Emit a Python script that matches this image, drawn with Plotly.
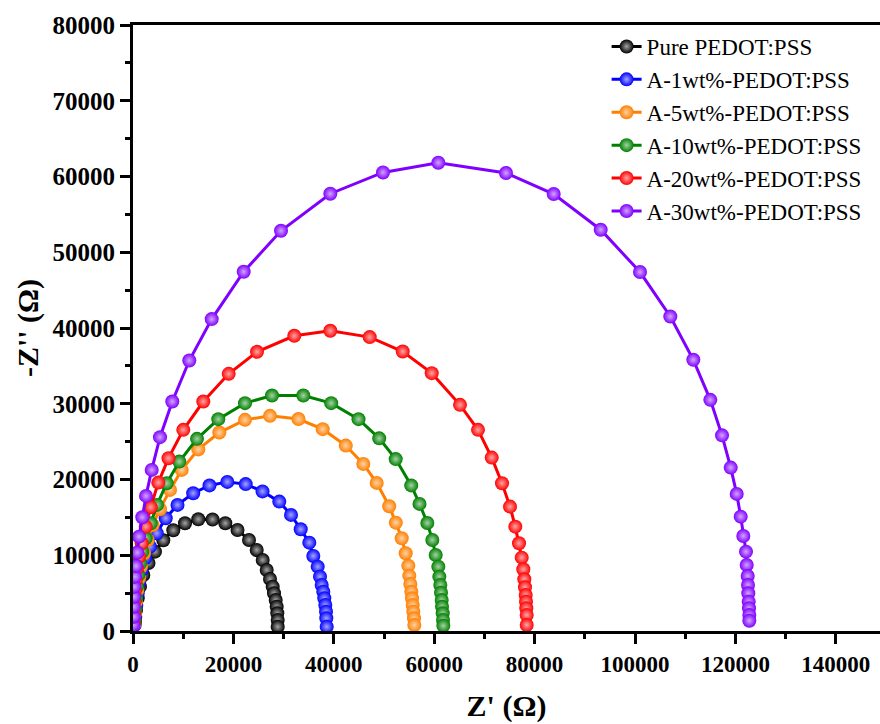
import plotly.graph_objects as go

# ---- data ----
names = ["Pure PEDOT:PSS", "A-1wt%-PEDOT:PSS", "A-5wt%-PEDOT:PSS",
         "A-10wt%-PEDOT:PSS", "A-20wt%-PEDOT:PSS", "A-30wt%-PEDOT:PSS"]
colors = ["#000000", "#0000FF", "#FF7F00", "#008000", "#FF0000", "#7F00FF"]

pure_x = [398, 598, 936, 1394, 2052, 3088, 4382, 6036, 8028, 10358, 13008, 15836, 18386,
          20816, 23107, 24641, 25836, 26633, 27290, 27828, 28087, 28426, 28625, 28745, 28825, 28825]
pure_y = [1229, 2774, 4320, 5852, 7398, 8983, 10475, 11981, 13302, 14227, 14756, 14729, 14227,
          13342, 12021, 10700, 9379, 8058, 6869, 5852, 4980, 4095, 3210, 2338, 1453, 568]

a1_x = [339, 458, 657, 936, 1255, 1733, 2390, 3386, 4721, 6514, 8864, 11992, 15239, 18785,
        22450, 25797, 29143, 31474, 33406, 35119, 35916, 36793, 37250, 37589, 37908, 38107,
        38306, 38446, 38505, 38585]
a1_y = [793, 1889, 3435, 4980, 6513, 8058, 9604, 11136, 12906, 14888, 16645, 18190, 19220, 19683,
        19392, 18428, 17081, 15324, 13434, 11664, 9908, 8494, 7173, 6077, 5191, 4320,
        3435, 2550, 1678, 568]

a5_x = [259, 398, 598, 857, 1195, 1594, 2191, 2928, 3924, 5378, 7370, 9701, 13008, 17191, 22310,
        27290, 32968, 37788, 42390, 45876, 48545, 51035, 52350, 53525, 54322, 54840, 55039,
        55238, 55438, 55577, 55717, 55836, 55975, 56035]
a5_y = [925, 2338, 3871, 5416, 6962, 8494, 10264, 12021, 14003, 16076, 18626, 21268, 23976, 26195, 27873,
        28402, 27979, 26644, 24478, 22061, 19551, 16473, 14306, 12246, 10264, 8626, 7305,
        6209, 5191, 4319, 3435, 2550, 1678, 793]

a10_x = [339, 458, 598, 797, 1056, 1394, 1853, 2530, 3526, 4781, 6713, 9223, 12749, 16992, 22310,
         27689, 33924, 39481, 44920, 49043, 52330, 55418, 57071, 58625, 59621, 60298, 60816,
         61015, 61214, 61354, 61493, 61553, 61692, 61752, 61812]
a10_y = [1229, 2774, 4320, 5852, 7398, 8943, 10475, 12246, 14227, 16645, 19511, 22365, 25364, 27966, 30079,
         31083, 31083, 30079, 27966, 25430, 22695, 19220, 16777, 14267, 12021, 10040, 8494,
         7173, 6077, 5059, 4095, 3210, 2338, 1453, 700]

a20_x = [139, 199, 259, 398, 538, 797, 1195, 1733, 2530, 3526, 5040, 7072, 10020, 14004, 19064,
         24701, 32131, 39303, 47152, 53725, 59502, 65138, 68724, 71453, 73505, 75098, 76154,
         76891, 77429, 77748, 77947, 78086, 78226, 78286, 78346, 78425, 78425]
a20_y = [1017, 2338, 3871, 5416, 6737, 8283, 9815, 11585, 13778, 16341, 19590, 22814, 26552, 30291, 33950,
         36856, 38970, 39630, 38798, 36896, 34042, 29855, 26552, 22893, 19511, 16420, 13778,
         11585, 9683, 8151, 6830, 5773, 4756, 3871, 2999, 2114, 793]

a30_x = [60, 139, 139, 199, 259, 398, 598, 857, 1195, 1853, 2590, 3725, 5378, 7829, 11215, 15677,
         22051, 29482, 39303, 49800, 60816, 74302, 83803, 93166, 100994, 107030, 111612, 114999,
         117329, 119062, 120257, 121054, 121572, 122110, 122250, 122449, 122508, 122568, 122648,
         122707, 122767, 122767]
a30_y = [793, 1889, 3210, 4531, 5852, 7173, 8587, 10343, 12457, 15020, 17834, 21268, 25588, 30291,
         35706, 41176, 47424, 52840, 57728, 60534, 61823, 60462, 57688, 52972, 47385, 41519, 35799,
         30515, 25826, 21572, 18098, 15099, 12550, 10475, 8719, 7266, 6077, 4980, 3871, 2999, 2114, 1361]

series_x = [pure_x, a1_x, a5_x, a10_x, a20_x, a30_x]
series_y = [pure_y, a1_y, a5_y, a10_y, a20_y, a30_y]

x_ticks = [0, 20000, 40000, 60000, 80000, 100000, 120000, 140000]
y_ticks = [0, 10000, 20000, 30000, 40000, 50000, 60000, 70000, 80000]


def lighten(hexc, f):
    h = hexc.lstrip("#")
    r, g, b = int(h[0:2], 16), int(h[2:4], 16), int(h[4:6], 16)
    r = int(r + (255 - r) * f)
    g = int(g + (255 - g) * f)
    b = int(b + (255 - b) * f)
    return f"rgb({r},{g},{b})"


fig = go.Figure()
for nm, c, xs, ys in zip(names, colors, series_x, series_y):
    fig.add_trace(go.Scatter(
        x=xs, y=ys, name=nm, mode="lines+markers",
        line=dict(color=c, width=3),
        marker=dict(color=c, size=14, line=dict(width=0),
                    gradient=dict(type="radial", color=lighten(c, 0.65))),
    ))

font_family = "Times New Roman, Liberation Serif, serif"

fig.update_layout(
    width=880, height=724,
    margin=dict(l=133, r=0, t=25, b=93),
    paper_bgcolor="white", plot_bgcolor="white",
    font=dict(family=font_family, color="black"),
    showlegend=True,
    legend=dict(x=0.634, y=1.0, xanchor="left", yanchor="top",
                font=dict(family=font_family, size=23, color="black"),
                bgcolor="rgba(0,0,0,0)", borderwidth=0, tracegroupgap=0),
    xaxis=dict(
        range=[0, 148800], tickvals=x_ticks, ticktext=[str(v) for v in x_ticks],
        showgrid=False, zeroline=False,
        showline=True, linecolor="black", linewidth=3, mirror=True,
        ticks="outside", ticklen=10, tickwidth=2.5, tickcolor="black",
        minor=dict(ticks="outside", ticklen=5, tickwidth=2.5, tickcolor="black", dtick=10000, tick0=0),
        tickfont=dict(family=font_family, size=23, color="black", weight="bold"),
        title=dict(text="Z' (Ω)", font=dict(family=font_family, size=30, color="black", weight="bold"),
                   standoff=20),
    ),
    yaxis=dict(
        range=[0, 80000], tickvals=y_ticks, ticktext=[str(v) for v in y_ticks],
        showgrid=False, zeroline=False,
        showline=True, linecolor="black", linewidth=3, mirror=False,
        ticks="outside", ticklen=10, tickwidth=2.5, tickcolor="black",
        minor=dict(ticks="outside", ticklen=5, tickwidth=2.5, tickcolor="black", dtick=5000, tick0=0),
        tickfont=dict(family=font_family, size=25, color="black", weight="bold"),
        title=dict(text="-Z'' (Ω)", font=dict(family=font_family, size=30, color="black", weight="bold"),
                   standoff=6),
    ),
)

fig.write_html("out.html")
